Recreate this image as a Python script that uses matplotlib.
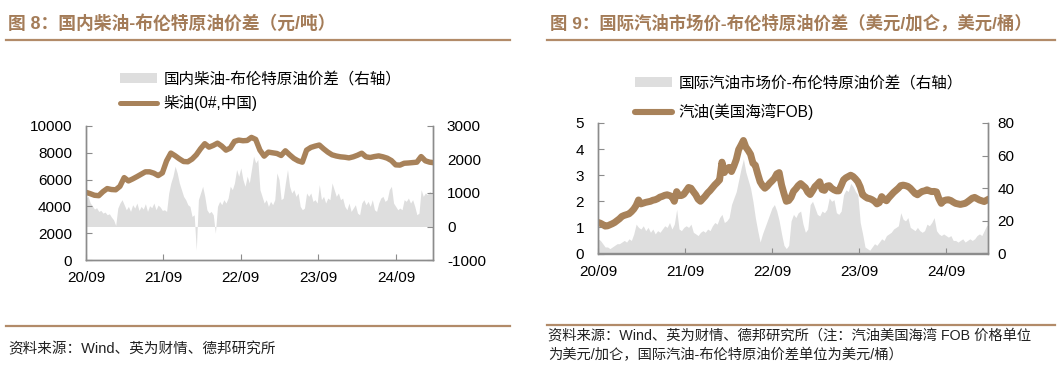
import matplotlib
matplotlib.use('Agg')
import matplotlib.pyplot as plt
from matplotlib.lines import Line2D
from matplotlib.patches import Patch
import pandas as pd

W, H = 1063, 371
FONT = ['Liberation Sans', 'Noto Sans CJK SC', 'DejaVu Sans']
plt.rcParams['font.family'] = FONT

BROWN = '#A8825A'
TITLE_C = '#A47C58'
RULE_C = '#B28B69'
GRAY_FILL = '#DEDEDE'
SPINE = '#8C8C8C'

# ---------------- data ----------------
start_date = '2020-09-01'
end_date = '2025-02-23'

# Chart 8: China diesel price (yuan/t), sampled every 20 days
diesel_price = [5050, 4950, 4830, 4800, 5100, 5330, 5260, 5240, 5500, 6150,
                5900, 6050, 6220, 6400, 6580, 6580, 6480, 6300, 6500, 7400,
                7980, 7780, 7550, 7350, 7330, 7530, 7850, 8300, 8680, 8420,
                8550, 8720, 8500, 8200, 8350, 8850, 8950, 8900, 8920, 9150,
                9000, 8200, 7750, 8050, 8000, 7950, 7800, 8150, 7850, 7580,
                7400, 7300, 8200, 8400, 8500, 8580, 8300, 8050, 7850, 7760,
                7700, 7670, 7620, 7700, 7820, 7970, 7700, 7650, 7720, 7770,
                7700, 7600, 7420, 7100, 7080, 7220, 7240, 7270, 7300, 7720,
                7400, 7300, 7260]

# Chart 8: diesel - Brent spread (yuan/t, right axis), every 10 days
diesel_spread = [850, 900, 700, 620, 520, 560, 450, 480, 400, 430,
                 350, 380, 280, 200, 30, 550, 700, 800, 650,
                 500, 600, 450, 650, 550, 700, 480, 600, 520, 680,
                 450, 620, 560, 700, 500, 640, 580, 480,
                 500, 450, 1000, 1300, 1500, 1800, 1600,
                 1300, 1100, 900, 800, 650, 600, 300, 350, -700,
                 800, 1000, 1200, 900, 500, 400, 450, 350, -200,
                 600, 750, 650, 800, 700, 850, 1200, 1100, 1300,
                 1700, 1500, 1750, 1400, 1200, 1500, 1300, 1700,
                 2100, 1900, 2000, 1100, 900,
                 700, 800, 600, 750, 650, 800, 1600, 1400, 800, 850,
                 1300, 1700, 1200, 1000, 1100, 900, 1000, 600, 500, 550,
                 1000, 900, 1000, 750, 800, 700, 1250,
                 800, 900, 700, 850, 800, 1300, 1100, 900, 1000, 800, 850,
                 600, 500, 700, 450, 550, 650, 400, 350,
                 700, 800, 650, 750, 600, 800, 500, 450,
                 700, 850, 900, 750, 800, 1100, 1200, 700, 600,
                 500, 550, 500, 800, 750, 850, 700, 800, 600, 350, 400,
                 1100, 900, 1000, 950, 1050, 1000]

# Chart 9: US Gulf gasoline FOB (USD/gal), every 10 days
gas_price = [1.19, 1.16, 1.11, 1.05, 1.06, 1.10, 1.14, 1.19, 1.26, 1.33,
             1.42, 1.46, 1.49, 1.52, 1.60, 1.70, 1.84, 2.05, 1.90, 1.93,
             1.96, 1.98, 2.00, 2.04, 2.06, 2.10, 2.16, 2.19, 2.23, 2.25,
             2.22, 2.18, 2.00, 2.37, 2.22, 2.22, 2.27, 2.40, 2.53, 2.50,
             2.37, 2.25, 2.08, 2.00, 2.10, 2.20, 2.32, 2.41, 2.52, 2.63,
             2.72, 2.82, 3.50, 3.10, 3.25, 3.30, 3.14, 3.35, 3.60, 3.98,
             4.15, 4.33, 4.08, 3.95, 3.80, 3.46, 3.38, 3.05, 2.75, 2.60,
             2.50, 2.58, 2.69, 2.78, 2.88, 3.05, 3.10, 2.63, 2.30, 2.00,
             2.03, 2.15, 2.38, 2.48, 2.60, 2.68, 2.60, 2.52, 2.35, 2.26,
             2.40, 2.56, 2.65, 2.75, 2.45, 2.42, 2.58, 2.60, 2.50, 2.44,
             2.40, 2.40, 2.60, 2.82, 2.90, 2.95, 3.00, 2.95, 2.86, 2.75,
             2.55, 2.25, 2.18, 2.12, 2.10, 2.06, 2.00, 1.90, 1.95, 2.18,
             2.08, 2.02, 2.14, 2.24, 2.34, 2.42, 2.50, 2.60, 2.62, 2.60,
             2.57, 2.50, 2.40, 2.30, 2.25, 2.32, 2.38, 2.40, 2.44, 2.40,
             2.37, 2.38, 2.36, 2.10, 1.92, 2.02, 2.05, 2.06, 2.03, 1.97,
             1.92, 1.90, 1.88, 1.90, 1.92, 1.98, 2.05, 2.12, 2.15, 2.10,
             2.05, 2.02, 1.99, 2.04, 2.09]

# Chart 9: gasoline - Brent spread (USD/bbl, right axis), every 10 days
gas_spread = [9, 8, 6, 4, 4, 3, 4, 5, 6, 6,
              7, 8, 7, 9, 8, 12, 18, 16, 15, 17,
              14, 16, 13, 15, 12, 14, 13, 15, 17, 16,
              19, 15, 18, 27, 15, 14, 16, 17, 16, 18,
              13, 12, 11, 13, 14, 13, 15, 14, 17, 19,
              18, 22, 24, 19, 20, 22, 30, 34, 38, 45,
              52, 58, 50, 45, 40, 32, 22, 14, 7, 12,
              16, 20, 24, 28, 30, 26, 20, 12, 5, 3,
              5, 20, 24, 22, 25, 26, 18, 13, 15, 30,
              32, 28, 24, 23, 26, 25, 27, 34, 32, 33,
              25, 24, 26, 36, 39, 38, 43, 41, 38, 36,
              19, 12, 4, 3, 2, 4, 6, 5, 7, 9,
              8, 11, 12, 13, 15, 16, 17, 25, 21, 20,
              22, 16, 15, 14, 16, 14, 13, 14, 18, 17,
              19, 22, 14, 12, 11, 12, 11, 10, 11, 8,
              8, 7, 8, 9, 7, 8, 9, 8, 9, 11,
              12, 11, 14, 17, 18]

year_ticks = ['2020-09-01', '2021-09-01', '2022-09-01', '2023-09-01', '2024-09-01']
year_labels = ['20/09', '21/09', '22/09', '23/09', '24/09']

diesel_left_ticks = [0, 2000, 4000, 6000, 8000, 10000]
diesel_right_ticks = [-1000, 0, 1000, 2000, 3000]
gas_left_ticks = [0, 1, 2, 3, 4, 5]
gas_right_ticks = [0, 20, 40, 60, 80]

titles = ['图 8：国内柴油-布伦特原油价差（元/吨）',
          '图 9：国际汽油市场价-布伦特原油价差（美元/加仑，美元/桶）']
legend_spread = ['国内柴油-布伦特原油价差（右轴）', '国际汽油市场价-布伦特原油价差（右轴）']
legend_line = ['柴油(0#,中国)', '汽油(美国海湾FOB)']
source_left = '资料来源：Wind、英为财情、德邦研究所'
source_right = ['资料来源：Wind、英为财情、德邦研究所（注：汽油美国海湾 FOB 价格单位',
                '为美元/加仑，国际汽油-布伦特原油价差单位为美元/桶）']

# ---------------- figure ----------------
fig = plt.figure(figsize=(W / 100, H / 100), dpi=100)


def fx(px):
    return px / W


def fy(py):
    return 1 - py / H


def rule(x0, x1, y):
    fig.add_artist(Line2D([fx(x0), fx(x1)], [fy(y), fy(y)], color=RULE_C, lw=1.6,
                          transform=fig.transFigure))


def make_panel(box, dates_line, line_vals, dates_fill, fill_vals, lw,
               lticks, lylim, rticks, rylim, lpad, rpad):
    x0, x1, ytop, ybot = box
    ax = fig.add_axes([fx(x0), fy(ybot), fx(x1) - fx(x0), fy(ytop) - fy(ybot)])
    ax2 = ax.twinx()
    ax2.fill_between(dates_fill, 0, fill_vals, color=GRAY_FILL, lw=0)
    ax.plot(dates_line, line_vals, color=BROWN, lw=lw, solid_joinstyle='round',
            solid_capstyle='round')
    ax.set_zorder(ax2.get_zorder() + 1)
    ax.patch.set_visible(False)
    ax.set_xlim(pd.Timestamp(start_date), pd.Timestamp(end_date))
    ax.set_ylim(*lylim)
    ax2.set_ylim(*rylim)
    ax.set_yticks(lticks)
    ax.set_yticklabels([str(t) for t in lticks])
    ax2.set_yticks(rticks)
    ax2.set_yticklabels([str(t) for t in rticks])
    ax.set_xticks(pd.to_datetime(year_ticks))
    ax.set_xticklabels(year_labels)
    for a in (ax, ax2):
        a.spines['top'].set_visible(False)
        for s in ('left', 'right', 'bottom'):
            a.spines[s].set_color(SPINE)
            a.spines[s].set_linewidth(1.0)
    ax.tick_params(axis='both', direction='in', length=4, color=SPINE,
                   labelsize=11, labelcolor='black')
    ax.tick_params(axis='y', pad=lpad)
    ax.tick_params(axis='x', pad=8)
    ax2.tick_params(axis='y', direction='in', length=4, color=SPINE,
                    labelsize=11, labelcolor='black', pad=rpad)
    return ax, ax2


def add_legend(label, handle, x, y, fs):
    fig.legend([handle], [label], loc='center left', bbox_to_anchor=(fx(x), fy(y)),
               frameon=False, fontsize=fs, handlelength=2.4, handleheight=0.55,
               handletextpad=0.4, borderpad=0, borderaxespad=0)


# ---- Panel 8 ----
d_line = pd.date_range(start_date, periods=len(diesel_price), freq='20D')
d_fill = pd.date_range(start_date, periods=len(diesel_spread), freq='10D')
make_panel((86, 433, 126, 260), d_line, diesel_price, d_fill, diesel_spread, 3.9,
           diesel_left_ticks, (0, 10000), diesel_right_ticks, (-1000, 3000), 10, 10)

# ---- Panel 9 ----
g_line = pd.date_range(start_date, periods=len(gas_price), freq='10D')
g_fill = pd.date_range(start_date, periods=len(gas_spread), freq='10D')
make_panel((598, 988, 123, 253.5), g_line, gas_price, g_fill, gas_spread, 5.0,
           gas_left_ticks, (0, 5), gas_right_ticks, (0, 80), 10, 7)

# titles and rules
fig.text(fx(8), fy(24), titles[0], fontsize=12.8, fontweight='bold', color=TITLE_C,
         ha='left', va='center')
fig.text(fx(550), fy(23), titles[1], fontsize=12.5, fontweight='bold', color=TITLE_C,
         ha='left', va='center')
rule(6, 510, 40)
rule(547, 1055, 40)
rule(6, 510, 326)
rule(547, 1055, 325)

# legends
add_legend(legend_spread[0], Patch(facecolor=GRAY_FILL, edgecolor='none'), 120, 79, 11.2)
add_legend(legend_line[0], Line2D([], [], color=BROWN, lw=3.6, solid_capstyle='round'),
           120, 103, 11.2)
add_legend(legend_spread[1], Patch(facecolor=GRAY_FILL, edgecolor='none'), 635, 83, 11.2)
add_legend(legend_line[1], Line2D([], [], color=BROWN, lw=4.4, solid_capstyle='round'),
           635, 112, 11.2)

# sources
fig.text(fx(8), fy(349), source_left, fontsize=10.5, color='#222222', ha='left', va='center')
fig.text(fx(548), fy(336), source_right[0], fontsize=10.3, color='#222222', ha='left', va='center')
fig.text(fx(548), fy(355), source_right[1], fontsize=10.3, color='#222222', ha='left', va='center')

fig.savefig('out.png', dpi=100)
